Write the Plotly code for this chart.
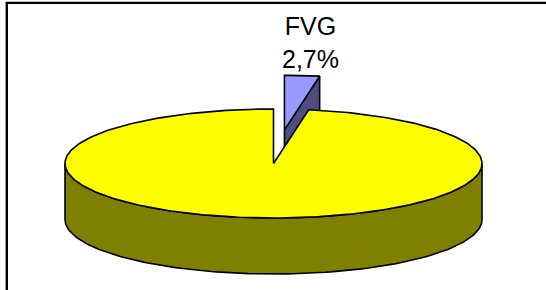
import numpy as np
import plotly.graph_objects as go

# ---- data ----
labels = ["FVG", "Altre regioni"]
values = [2.7, 97.3]
show_label = [True, False]
exploded = [True, False]

# ---- style ----
top_colors = ["#9999FF", "#FFFF00"]
side_colors = ["#4D4D80", "#808000"]
CX, CY, RX, RY, DEPTH = 273.5, 163.5, 208.5, 54.5, 56.0
PULL = 0.62
LINE = dict(color="black", width=1.6)

total = float(sum(values))
angles = []
acc = 0.0
for v in values:
    t0 = 2 * np.pi * acc / total
    acc += v
    t1 = 2 * np.pi * acc / total
    angles.append((t0, t1))


def pt(t, dx, dy, h=0.0):
    return CX + dx + RX * np.sin(t), CY + dy - RY * np.cos(t) + h


fig = go.Figure()


def poly(xs, ys, color):
    xs = list(xs) + [xs[0]]
    ys = list(ys) + [ys[0]]
    fig.add_trace(go.Scatter(x=xs, y=ys, mode="lines", fill="toself",
                             fillcolor=color, line=LINE, hoverinfo="skip",
                             showlegend=False))


slices = []
for i, (t0, t1) in enumerate(angles):
    mid = (t0 + t1) / 2
    if exploded[i]:
        dx, dy = PULL * RX * np.sin(mid), -PULL * RY * np.cos(mid)
    else:
        dx, dy = 0.0, 0.0
    slices.append((dy, i, t0, t1, dx))

for dy, i, t0, t1, dx in sorted(slices):
    cx, cy = CX + dx, CY + dy
    # radial face at t1
    if np.sin(t1) > 1e-6:
        ex, ey = pt(t1, dx, dy)
        poly([cx, ex, ex, cx], [cy, ey, ey + DEPTH, cy + DEPTH], side_colors[i])
    # radial face at t0
    if np.sin(t0) < -1e-6:
        sx, sy = pt(t0, dx, dy)
        poly([cx, sx, sx, cx], [cy, sy, sy + DEPTH, cy + DEPTH], side_colors[i])
    # outer wall (front half only)
    a, b = max(t0, np.pi / 2), min(t1, 3 * np.pi / 2)
    if b > a:
        ts = np.linspace(a, b, 120)
        tx, ty = pt(ts, dx, dy)
        bx, by = pt(ts[::-1], dx, dy, DEPTH)
        poly(np.concatenate([tx, bx]), np.concatenate([ty, by]), side_colors[i])
    # top face
    ts = np.linspace(t0, t1, max(4, int((t1 - t0) / (2 * np.pi) * 360)))
    ax_, ay_ = pt(ts, dx, dy)
    poly(np.concatenate([[cx], ax_]), np.concatenate([[cy], ay_]), top_colors[i])

for i, v in enumerate(values):
    if show_label[i]:
        pct = f"{100 * v / total:.1f}%".replace(".", ",")
        fig.add_annotation(x=310.5, y=42, text=f"{labels[i]}<br>{pct}",
                           showarrow=False, xanchor="center", yanchor="middle",
                           font=dict(family="Liberation Sans, Arial", size=25,
                                     color="black"))

# chart frame (only top and left edges fall inside the picture)
fig.add_shape(type="rect", x0=6.8, x1=570, y0=2.9, y1=310, xref="x", yref="y",
              line=dict(color="black", width=2.4), fillcolor="rgba(0,0,0,0)",
              layer="above")

fig.update_layout(width=546, height=290, margin=dict(l=0, r=0, t=0, b=0),
                  paper_bgcolor="white", plot_bgcolor="white",
                  xaxis=dict(range=[0, 546], visible=False, fixedrange=True),
                  yaxis=dict(range=[290, 0], visible=False, fixedrange=True),
                  showlegend=False)

fig.write_html("out.html",
               config={"displayModeBar": False},
               post_script="document.body.style.margin='0';"
                           "document.body.style.overflow='hidden';")
